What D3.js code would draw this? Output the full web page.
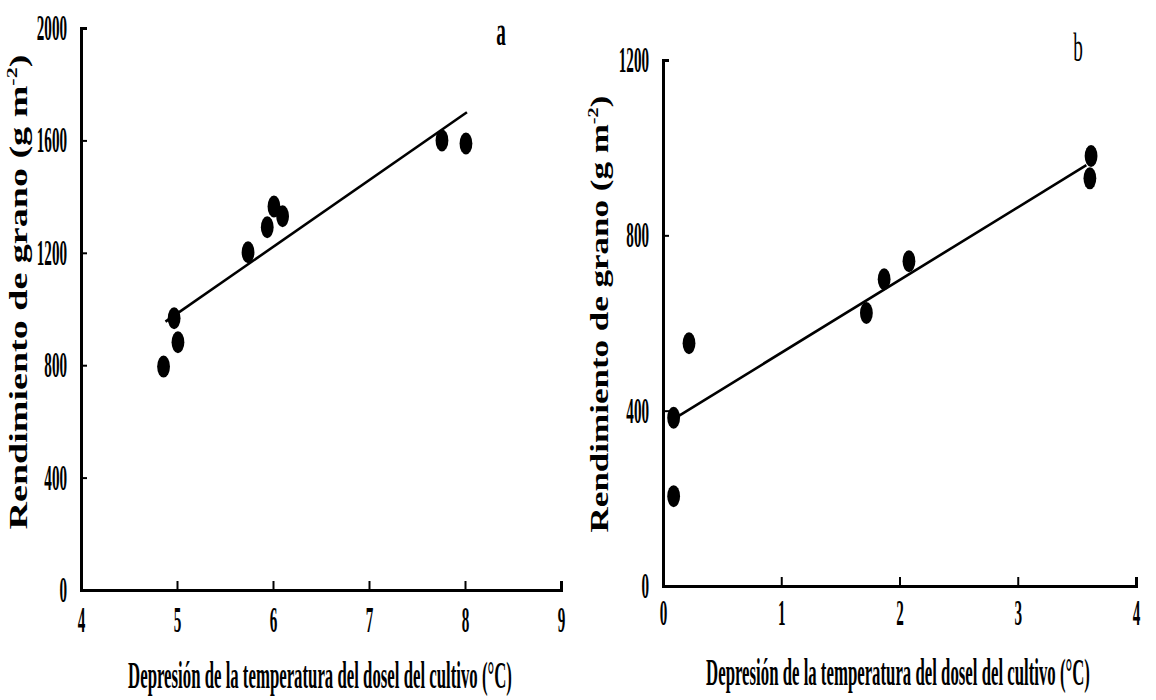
<!DOCTYPE html>
<html>
<head>
<meta charset="utf-8">
<script src="https://cdn.jsdelivr.net/npm/d3@7"></script>
<style>
  html, body { margin: 0; padding: 0; background: #fff; }
  svg { display: block; }
  .axis path, .axis line { stroke: #000; }
  text { font-family: "Liberation Serif", "Times New Roman", serif; fill: #000; }
</style>
</head>
<body>
<svg id="chart" width="1156" height="700"></svg>
<script>
// Panel a: canopy temperature depression vs grain yield
const aDepression = [4.86, 4.97, 5.01, 5.74, 5.94, 6.01, 6.10, 7.76, 8.01];
const aYield      = [795, 967, 882, 1202, 1291, 1365, 1330, 1600, 1589];
const aFitX = [4.88, 8.02];
const aFitY = [955, 1700];
const aXTicks = [4, 5, 6, 7, 8, 9];
const aYTicks = [0, 400, 800, 1200, 1600, 2000];

// Panel b
const bDepression = [0.09, 0.09, 0.22, 1.72, 1.87, 2.08, 3.61, 3.62];
const bYield      = [205, 384, 554, 623, 700, 741, 930, 981];
const bFitX = [0.12, 3.58];
const bFitY = [386, 960];
const bXTicks = [0, 1, 2, 3, 4];
const bYTicks = [0, 400, 800, 1200];

const xTitle = "Depresión de la temperatura del dosel del cultivo (°C)";
const yTitle = "Rendimiento de grano (g m";

// Lettering is narrow (condensed Times-like face); markers are tall ovals.
const TICK_K = 0.42;     // horizontal squeeze of tick numerals
const GLYPH_K = 0.6;     // squeeze of glyph height in the rotated titles

const svg = d3.select("#chart");

function panel(cfg) {
  const x = d3.scaleLinear().domain(cfg.xDomain).range([cfg.left, cfg.right]);
  const y = d3.scaleLinear().domain(cfg.yDomain).range([cfg.bottom, cfg.top]);
  const p = svg.append("g");

  const yPad = 14;
  const yAxis = p.append("g").attr("class", "axis")
    .attr("transform", `translate(${cfg.left},0)`)
    .call(d3.axisLeft(y).tickValues(cfg.yTicks).tickFormat(d3.format("d"))
      .tickSizeInner(-6).tickSizeOuter(-6).tickPadding(yPad));
  const xAxis = p.append("g").attr("class", "axis")
    .attr("transform", `translate(0,${cfg.bottom})`)
    .call(d3.axisBottom(x).tickValues(cfg.xTicks).tickFormat(d3.format("d"))
      .tickSizeInner(-9).tickSizeOuter(-9).tickPadding(cfg.xPad));

  [yAxis, xAxis].forEach(a => {
    a.attr("font-family", null).attr("font-size", null);
    a.select(".domain").attr("stroke-width", 3);
    a.selectAll(".tick line").attr("stroke-width", 2);
    a.selectAll("text").style("font-size", "36px").style("font-weight", "bold")
      .attr("transform", `scale(${TICK_K},1)`);
  });
  yAxis.selectAll("text").attr("x", -yPad / TICK_K);
  xAxis.selectAll("text").attr("dy", null).attr("dominant-baseline", "hanging");

  // regression line
  const line = d3.line().x(d => x(d[0])).y(d => y(d[1]));
  p.append("path")
    .datum(cfg.fitX.map((v, i) => [v, cfg.fitY[i]]))
    .attr("d", line)
    .attr("fill", "none").attr("stroke", "#000").attr("stroke-width", 2.6);

  // observations
  p.selectAll("ellipse.obs")
    .data(cfg.xs.map((v, i) => [v, cfg.ys[i]]))
    .enter().append("ellipse").attr("class", "obs")
    .attr("cx", d => x(d[0])).attr("cy", d => y(d[1]))
    .attr("rx", 6.4).attr("ry", 11).attr("fill", "#000");

  // x title, squeezed to its printed width
  const xt = p.append("text")
    .attr("text-anchor", "middle")
    .style("font-weight", "bold").style("font-size", "37px")
    .text(xTitle);
  const kx = 384 / xt.node().getComputedTextLength();
  xt.attr("transform", `translate(${cfg.xTitleX},${cfg.xTitleY}) scale(${kx},1)`);

  // y title, rotated
  const yt = p.append("text")
    .attr("text-anchor", "middle")
    .style("font-weight", "bold").style("font-size", "43px");
  yt.append("tspan").text(yTitle);
  yt.append("tspan").style("font-size", "25px").attr("dy", -17).text("-2");
  yt.append("tspan").attr("dy", 17).text(")");
  const ky = cfg.yTitleLen / yt.node().getComputedTextLength();
  yt.attr("transform",
    `translate(${cfg.yTitleX},${cfg.yTitleY}) rotate(-90) scale(${ky},${GLYPH_K})`);

  // panel letter
  p.append("text")
    .attr("text-anchor", "middle")
    .attr("transform", `translate(${cfg.labelX},${cfg.labelY}) scale(0.48,1)`)
    .style("font-weight", cfg.labelWeight).style("font-size", "40px")
    .text(cfg.label);
}

panel({
  xDomain: [4, 9], yDomain: [0, 2000],
  left: 81, right: 561, top: 28, bottom: 590,
  xTicks: aXTicks, yTicks: aYTicks, xPad: 16,
  xs: aDepression, ys: aYield, fitX: aFitX, fitY: aFitY,
  xTitleX: 320, xTitleY: 688, yTitleX: 27, yTitleY: 292, yTitleLen: 475,
  label: "a", labelX: 501, labelY: 45, labelWeight: "bold"
});

panel({
  xDomain: [0, 4], yDomain: [0, 1200],
  left: 663, right: 1136, top: 60, bottom: 586,
  xTicks: bXTicks, yTicks: bYTicks, xPad: 13,
  xs: bDepression, ys: bYield, fitX: bFitX, fitY: bFitY,
  xTitleX: 898, xTitleY: 685, yTitleX: 608, yTitleY: 314, yTitleLen: 437,
  label: "b", labelX: 1078, labelY: 61, labelWeight: "normal"
});
</script>
</body>
</html>
